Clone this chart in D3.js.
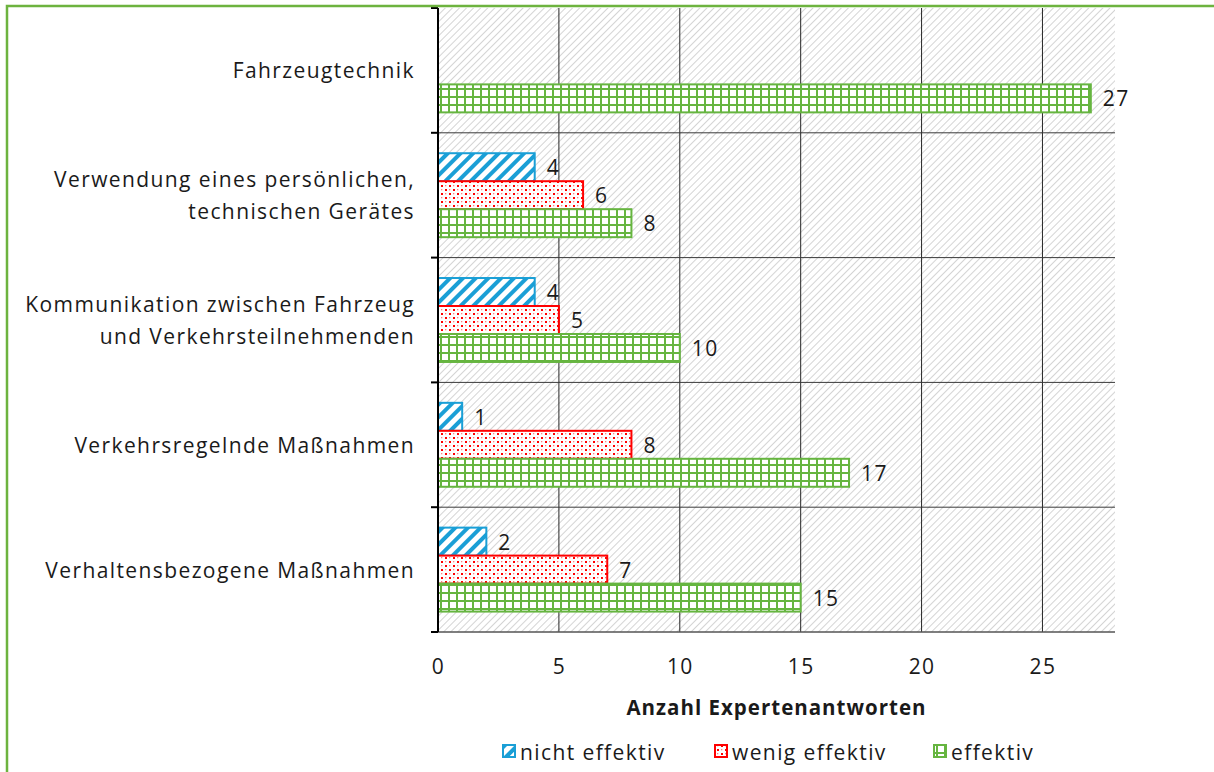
<!DOCTYPE html>
<html>
<head>
<meta charset="utf-8">
<script src="https://cdn.jsdelivr.net/npm/d3@7"></script>
<style>
  body { margin: 0; background: #fff; }
  svg { display: block; }
  text { font-family: "Open Sans", sans-serif; fill: #1a1a1a; letter-spacing: 1.4px; }
</style>
</head>
<body>
<div id="chart"></div>
<script>
/** chart data */
const categories = [
  "Fahrzeugtechnik",
  "Verwendung eines persönlichen,\ntechnischen Gerätes",
  "Kommunikation zwischen Fahrzeug\nund Verkehrsteilnehmenden",
  "Verkehrsregelnde Maßnahmen",
  "Verhaltensbezogene Maßnahmen",
];
const seriesNames = ["nicht effektiv", "wenig effektiv", "effektiv"];
const nichtEffektiv = [0, 4, 4, 1, 2];
const wenigEffektiv = [0, 6, 5, 8, 7];
const effektiv = [27, 8, 10, 17, 15];
const xTicks = [0, 5, 10, 15, 20, 25];
const xMax = 28;
const axisTitle = "Anzahl Expertenantworten";

const seriesValues = [nichtEffektiv, wenigEffektiv, effektiv];
const colors = ["#1a9fd6", "#ff0000", "#66b540"];

const width = 1214, height = 772;
const plot = { left: 438, right: 1115, top: 8, bottom: 632 };
const fontSize = 21;

const svg = d3.select("#chart").append("svg")
  .attr("width", width).attr("height", height);

/** patterns */
const defs = svg.append("defs");

const bg = defs.append("pattern").attr("id", "bg")
  .attr("patternUnits", "userSpaceOnUse")
  .attr("width", 5).attr("height", 5)
  .attr("patternTransform", "rotate(45)");
bg.append("rect").attr("width", 5).attr("height", 5).attr("fill", "#fff");
bg.append("line").attr("x1", 0).attr("y1", 0).attr("x2", 0).attr("y2", 5)
  .attr("stroke", "#d4d4d4").attr("stroke-width", 2);

const p0 = defs.append("pattern").attr("id", "pat0")
  .attr("patternUnits", "userSpaceOnUse")
  .attr("width", 9).attr("height", 9)
  .attr("patternTransform", "rotate(45)");
p0.append("rect").attr("width", 9).attr("height", 9).attr("fill", "#fff");
p0.append("line").attr("x1", 0).attr("y1", 0).attr("x2", 0).attr("y2", 9)
  .attr("stroke", colors[0]).attr("stroke-width", 8);

const p1 = defs.append("pattern").attr("id", "pat1")
  .attr("patternUnits", "userSpaceOnUse")
  .attr("width", 8).attr("height", 8);
p1.append("rect").attr("width", 8).attr("height", 8).attr("fill", "#fff");
p1.append("rect").attr("x", 1).attr("y", 1).attr("width", 2).attr("height", 2).attr("fill", colors[1]);
p1.append("rect").attr("x", 5).attr("y", 5).attr("width", 2).attr("height", 2).attr("fill", colors[1]);
p1.append("rect").attr("x", 5).attr("y", 1).attr("width", 1.3).attr("height", 1.3).attr("fill", "#ff8080");
p1.append("rect").attr("x", 1).attr("y", 5).attr("width", 1.3).attr("height", 1.3).attr("fill", "#ff8080");

const p2 = defs.append("pattern").attr("id", "pat2")
  .attr("patternUnits", "userSpaceOnUse")
  .attr("width", 8).attr("height", 8);
p2.append("rect").attr("width", 8).attr("height", 8).attr("fill", "#fff");
p2.append("rect").attr("x", 0).attr("y", 0).attr("width", 2).attr("height", 8).attr("fill", colors[2]);
p2.append("rect").attr("x", 0).attr("y", 0).attr("width", 8).attr("height", 2).attr("fill", colors[2]);

/** scales */
const x = d3.scaleLinear().domain([0, xMax]).range([plot.left, plot.right]);
const y = d3.scaleBand().domain(categories).range([plot.top, plot.bottom]);
const ySub = d3.scaleBand().domain(seriesNames)
  .range([0, y.bandwidth()]).paddingOuter(0.73);

/** background */
svg.append("rect")
  .attr("x", plot.left).attr("y", plot.top)
  .attr("width", plot.right - plot.left).attr("height", plot.bottom - plot.top)
  .attr("fill", "url(#bg)");

/** grid lines */
svg.append("g").selectAll("line")
  .data(xTicks.filter(d => d > 0))
  .join("line")
  .attr("x1", d => x(d)).attr("x2", d => x(d))
  .attr("y1", plot.top).attr("y2", plot.bottom)
  .attr("stroke", "#262626").attr("stroke-width", 1);

const boundaries = categories.map(c => y(c)).concat([plot.bottom]);
svg.append("g").selectAll("line")
  .data(boundaries.slice(1, -1))
  .join("line")
  .attr("x1", plot.left).attr("x2", plot.right)
  .attr("y1", d => d).attr("y2", d => d)
  .attr("stroke", "#3a3a3a").attr("stroke-width", 1);

/** bars */
seriesNames.forEach((name, si) => {
  const g = svg.append("g");
  const rows = categories.map((c, i) => ({ c, v: seriesValues[si][i] })).filter(d => d.v > 0);
  g.selectAll("rect").data(rows).join("rect")
    .attr("x", x(0))
    .attr("y", d => y(d.c) + ySub(name))
    .attr("width", d => x(d.v) - x(0))
    .attr("height", ySub.bandwidth())
    .attr("fill", `url(#pat${si})`)
    .attr("stroke", colors[si]).attr("stroke-width", 2);
  g.selectAll("text").data(rows).join("text")
    .attr("x", d => x(d.v) + 12)
    .attr("y", d => y(d.c) + ySub(name) + ySub.bandwidth() / 2)
    .attr("dominant-baseline", "central")
    .attr("font-size", fontSize)
    .text(d => d.v);
});

/** axes lines */
svg.append("line")
  .attr("x1", plot.left).attr("x2", plot.right)
  .attr("y1", plot.bottom).attr("y2", plot.bottom)
  .attr("stroke", "#555").attr("stroke-width", 1.5);
svg.append("line")
  .attr("x1", plot.left).attr("x2", plot.left)
  .attr("y1", plot.top).attr("y2", plot.bottom)
  .attr("stroke", "#000").attr("stroke-width", 2);
svg.append("g").selectAll("line")
  .data(boundaries)
  .join("line")
  .attr("x1", plot.left - 7).attr("x2", plot.left)
  .attr("y1", d => d).attr("y2", d => d)
  .attr("stroke", "#000").attr("stroke-width", 2);

/** x axis labels */
const xAxis = d3.axisBottom(x).tickValues(xTicks).tickSize(0).tickPadding(27);
const gx = svg.append("g").attr("transform", `translate(0, ${plot.bottom})`).call(xAxis);
gx.select(".domain").remove();
gx.selectAll("text").attr("font-size", fontSize).attr("font-family", "Open Sans").attr("fill", "#1a1a1a");

svg.append("text")
  .attr("x", (plot.left + plot.right) / 2).attr("y", 715)
  .attr("text-anchor", "middle")
  .attr("font-size", fontSize - 0.5).attr("font-weight", "bold")
  .style("letter-spacing", "1px")
  .text(axisTitle);

/** category labels */
categories.forEach(c => {
  const lines = c.split("\n");
  const cy = y(c) + y.bandwidth() / 2;
  const t = svg.append("text")
    .attr("text-anchor", "end")
    .attr("font-size", fontSize);
  lines.forEach((l, i) => {
    t.append("tspan")
      .attr("x", 415)
      .attr("y", cy + (i - (lines.length - 1) / 2) * 32)
      .attr("dominant-baseline", "central")
      .text(l);
  });
});

/** legend */
const legendX = [503, 715, 934];
seriesNames.forEach((name, si) => {
  svg.append("rect")
    .attr("x", legendX[si]).attr("y", 745)
    .attr("width", 12).attr("height", 12)
    .attr("fill", `url(#pat${si})`)
    .attr("stroke", colors[si]).attr("stroke-width", 2);
  svg.append("text")
    .attr("x", legendX[si] + 17).attr("y", 752)
    .attr("dominant-baseline", "central")
    .attr("font-size", fontSize)
    .text(name);
});

/** outer border */
svg.append("rect")
  .attr("x", 7).attr("y", 6)
  .attr("width", 1240).attr("height", 800)
  .attr("fill", "none")
  .attr("stroke", "#6db33f").attr("stroke-width", 2.5);
</script>
</body>
</html>
